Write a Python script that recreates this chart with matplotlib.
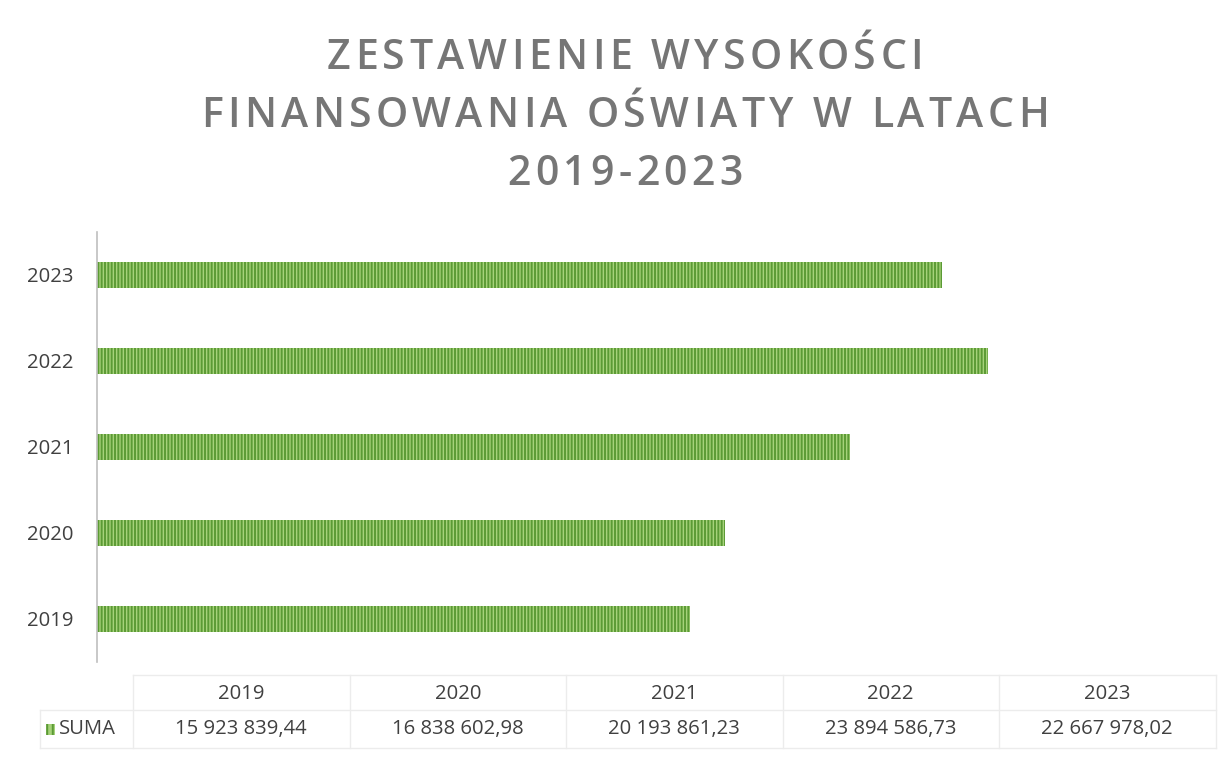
import matplotlib
matplotlib.use("Agg")
import matplotlib.pyplot as plt
from matplotlib.lines import Line2D
from matplotlib.patches import Rectangle

plt.rcParams['font.family'] = ['Open Sans', 'DejaVu Sans']
plt.rcParams['hatch.linewidth'] = 1.4

# ---- data ----
years = ["2019", "2020", "2021", "2022", "2023"]
values = [15923839.44, 16838602.98, 20193861.23, 23894586.73, 22667978.02]
value_labels = ["15 923 839,44", "16 838 602,98", "20 193 861,23", "23 894 586,73", "22 667 978,02"]
series_name = "SUMA"
title_lines = ["ZESTAWIENIE WYSOKOŚCI", "FINANSOWANIA OŚWIATY W LATACH", "2019-2023"]

W, H = 1232, 766
fig = plt.figure(figsize=(W / 100, H / 100), dpi=100)
fig.patch.set_facecolor("white")
renderer = fig.canvas.get_renderer()

def fx(px):
    return px / W

def fy(py):
    return 1 - py / H

# axes: left 97px, top 232px, bottom 662px
ax_left, ax_right, ax_top, ax_bottom = 97, 1190, 232, 662
ax = fig.add_axes([fx(ax_left), fy(ax_bottom), fx(ax_right - ax_left), (ax_bottom - ax_top) / H])
px_per_unit = 37.27 / 1e6
ax.set_xlim(0, (ax_right - ax_left) / px_per_unit)
ax.set_ylim(-0.5, len(years) - 0.5)

ypos = list(range(len(years)))
ax.barh(ypos, values, height=0.31, color="#a6d27a", edgecolor="#5b9a35",
        hatch="|||||", linewidth=0, zorder=2)

txt_size = 14.6
txt_col = "#404040"
ax.set_yticks(ypos)
ax.set_yticklabels(years, fontsize=txt_size, color=txt_col)
ax.tick_params(axis="y", length=0, pad=17)
ax.set_xticks([])
for s in ["top", "right", "bottom"]:
    ax.spines[s].set_visible(False)
ax.spines["left"].set_color("#bfbfbf")
ax.spines["left"].set_linewidth(1.2)

# ---- title with letter spacing ----
title_kw = dict(fontsize=29.5, color="#767676", fontweight="semibold")

def text_width(s):
    t = fig.text(0, 0, s, **title_kw)
    w = t.get_window_extent(renderer).width
    t.remove()
    return w

bar_w = text_width("||")
def char_adv(c):
    return text_width("|" + c + "|") - bar_w

def line_layout(s, tracking):
    advs = [char_adv(c) for c in s]
    total = sum(advs) + tracking * (len(s) - 1)
    return advs, total

# derive tracking from the widest line (target width ~848 px)
advs2, nat2 = line_layout(title_lines[1], 0.0)
tracking = (848 - nat2) / (len(title_lines[1]) - 1)

title_baselines = [69, 127, 185]
cx_title = 625
for line, base in zip(title_lines, title_baselines):
    advs, total = line_layout(line, tracking)
    x = cx_title - total / 2
    for c, a in zip(line, advs):
        if c != " ":
            fig.text(fx(x), fy(base), c, ha="left", va="baseline", **title_kw)
        x += a + tracking

# ---- data table ----
col_w = 216.5
tbl_left = 133
row1_y, row2_y = 694, 729
line_c = "#ececec"
fig.add_artist(Line2D([fx(tbl_left), fx(tbl_left + 5 * col_w)], [fy(675), fy(675)], color=line_c, lw=1))
fig.add_artist(Line2D([fx(40), fx(tbl_left + 5 * col_w)], [fy(710), fy(710)], color=line_c, lw=1))
fig.add_artist(Line2D([fx(40), fx(tbl_left + 5 * col_w)], [fy(748), fy(748)], color=line_c, lw=1))
for i in range(6):
    x = tbl_left + i * col_w
    fig.add_artist(Line2D([fx(x), fx(x)], [fy(675), fy(748)], color=line_c, lw=1))
fig.add_artist(Line2D([fx(40), fx(40)], [fy(710), fy(748)], color=line_c, lw=1))

for i, (yr, lab) in enumerate(zip(years, value_labels)):
    cx = tbl_left + (i + 0.5) * col_w
    fig.text(fx(cx), fy(row1_y), yr, ha="center", va="center", fontsize=txt_size, color=txt_col)
    fig.text(fx(cx), fy(row2_y), lab, ha="center", va="center", fontsize=txt_size, color=txt_col)

# legend key
fig.add_artist(Rectangle((fx(46), fy(735)), fx(9), 11 / H, facecolor="#a6d27a",
                         edgecolor="#5b9a35", hatch="|||", linewidth=0))
fig.text(fx(59), fy(row2_y), series_name, ha="left", va="center", fontsize=txt_size, color=txt_col)

fig.savefig("out.png", dpi=100, facecolor="white")
